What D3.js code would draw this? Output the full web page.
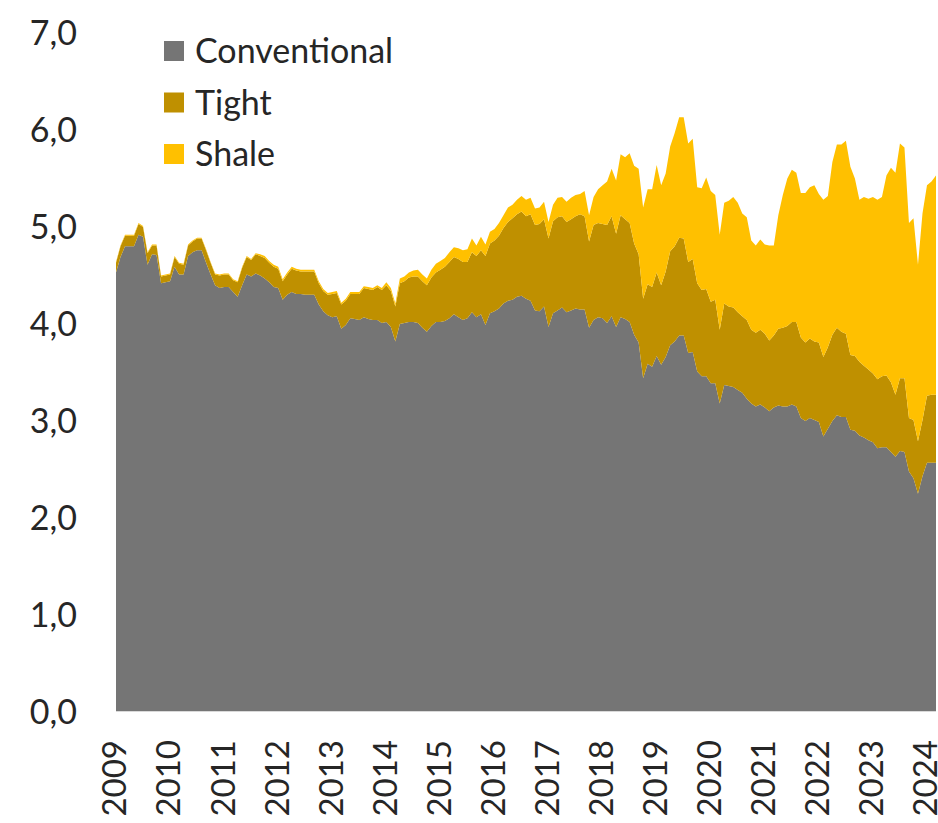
<!DOCTYPE html>
<html><head><meta charset="utf-8">
<script src="https://cdn.jsdelivr.net/npm/d3@7/dist/d3.min.js"></script>
<style>body{margin:0;background:#fff} svg{display:block}</style>
</head><body><svg id="c" width="938" height="823"></svg>
<script>
const startYear = 2009;
const yearLabels = ["2009","2010","2011","2012","2013","2014","2015","2016","2017","2018","2019","2020","2021","2022","2023","2024"];
const yTicks = [0,1,2,3,4,5,6,7];
const seriesNames = ["Conventional","Tight","Shale"];
const seriesColors = ["#757575","#BF9000","#FFC000"];

// monthly values, Jan 2009 onward
const conventional = [
 4.52,4.68,4.79,4.79,4.79,4.91,4.89,4.60,4.71,4.70,4.41,4.42,
 4.43,4.58,4.50,4.50,4.69,4.73,4.75,4.75,4.62,4.50,4.39,4.36,
 4.37,4.37,4.32,4.27,4.39,4.50,4.48,4.51,4.49,4.46,4.42,4.37,
 4.36,4.24,4.29,4.32,4.30,4.30,4.29,4.29,4.29,4.19,4.12,4.08,
 4.06,4.07,3.94,3.98,4.05,4.04,4.03,4.06,4.04,4.03,4.03,4.00,
 4.01,3.96,3.81,3.99,4.00,4.01,4.01,4.00,3.95,3.91,3.97,4.01,
 4.01,4.02,4.05,4.09,4.06,4.03,4.05,4.11,4.06,4.09,3.98,4.10,
 4.12,4.15,4.20,4.23,4.24,4.27,4.28,4.25,4.23,4.13,4.12,4.17,
 3.96,4.10,4.13,4.16,4.11,4.13,4.15,4.14,4.14,3.95,4.03,4.06,
 4.05,4.00,4.07,3.96,4.06,4.04,4.01,3.88,3.80,3.43,3.58,3.55,
 3.66,3.57,3.65,3.77,3.81,3.87,3.87,3.69,3.70,3.50,3.45,3.45,
 3.38,3.38,3.17,3.36,3.35,3.34,3.31,3.28,3.22,3.17,3.14,3.16,
 3.13,3.09,3.13,3.15,3.14,3.14,3.16,3.14,3.02,2.99,3.02,3.00,
 2.98,2.83,2.91,2.99,3.05,3.03,3.03,2.90,2.89,2.84,2.82,2.79,
 2.77,2.71,2.72,2.72,2.67,2.62,2.68,2.67,2.47,2.40,2.24,2.42,
 2.56,2.56,2.56];
const tight = [
 0.10,0.11,0.11,0.11,0.11,0.11,0.10,0.12,0.09,0.10,0.07,0.07,
 0.07,0.10,0.11,0.10,0.11,0.11,0.12,0.12,0.13,0.12,0.11,0.13,
 0.13,0.13,0.12,0.15,0.18,0.18,0.17,0.20,0.20,0.21,0.20,0.21,
 0.20,0.19,0.21,0.24,0.24,0.23,0.24,0.24,0.24,0.22,0.21,0.21,
 0.24,0.24,0.25,0.25,0.25,0.26,0.27,0.30,0.31,0.31,0.34,0.34,
 0.38,0.37,0.36,0.42,0.43,0.46,0.47,0.48,0.48,0.48,0.50,0.51,
 0.54,0.56,0.58,0.59,0.60,0.60,0.58,0.62,0.63,0.66,0.71,0.72,
 0.73,0.75,0.78,0.81,0.84,0.85,0.87,0.85,0.89,0.88,0.90,0.90,
 0.91,0.95,0.96,0.94,0.93,0.94,0.95,0.98,0.96,0.89,0.98,0.97,
 0.97,1.01,1.03,0.96,1.05,1.03,1.02,0.94,0.91,0.82,0.82,0.82,
 0.86,0.82,0.88,0.97,0.98,1.01,1.00,0.94,0.96,0.91,0.89,0.90,
 0.84,0.86,0.76,0.84,0.82,0.82,0.80,0.79,0.81,0.76,0.76,0.77,
 0.76,0.73,0.74,0.79,0.81,0.83,0.85,0.87,0.83,0.81,0.82,0.81,
 0.82,0.82,0.84,0.89,0.90,0.88,0.86,0.77,0.77,0.76,0.74,0.73,
 0.71,0.71,0.73,0.74,0.72,0.64,0.75,0.76,0.55,0.60,0.54,0.58,
 0.69,0.70,0.70];
const shale = [
 0.01,0.01,0.01,0.01,0.01,0.01,0.01,0.01,0.01,0.01,0.01,0.01,
 0.01,0.01,0.01,0.01,0.01,0.01,0.01,0.01,0.01,0.01,0.01,0.01,
 0.01,0.01,0.01,0.01,0.01,0.01,0.01,0.01,0.02,0.02,0.02,0.02,
 0.02,0.02,0.02,0.02,0.02,0.02,0.02,0.02,0.02,0.02,0.02,0.02,
 0.02,0.02,0.02,0.02,0.02,0.02,0.02,0.02,0.02,0.02,0.02,0.02,
 0.03,0.03,0.03,0.05,0.05,0.05,0.06,0.07,0.07,0.07,0.08,0.09,
 0.09,0.09,0.10,0.10,0.11,0.12,0.13,0.14,0.11,0.14,0.12,0.12,
 0.12,0.13,0.13,0.15,0.14,0.15,0.16,0.17,0.17,0.17,0.17,0.18,
 0.17,0.17,0.20,0.20,0.21,0.22,0.22,0.21,0.26,0.27,0.29,0.35,
 0.40,0.45,0.49,0.55,0.63,0.64,0.72,0.80,0.88,0.94,0.98,1.01,
 1.11,1.03,1.01,1.08,1.17,1.24,1.25,1.22,1.24,0.99,1.05,1.15,
 1.14,1.08,0.98,1.04,1.09,1.14,1.13,1.06,1.06,0.92,0.90,0.93,
 0.92,0.98,0.93,1.17,1.37,1.52,1.57,1.54,1.49,1.54,1.56,1.61,
 1.53,1.62,1.56,1.78,1.89,1.93,1.99,1.94,1.83,1.67,1.74,1.76,
 1.82,1.85,1.85,2.06,2.21,2.29,2.42,2.38,2.01,2.08,1.82,2.13,
 2.17,2.20,2.26];

const FONT = "Lato, 'Open Sans', sans-serif";
const TXT = "#262626";
const svg = d3.select("#c");

const x = d3.scaleLinear().domain([0, conventional.length - 1]).range([116, 936]);
const y = d3.scaleLinear().domain([0, 7]).range([711, 32]);

const rows = conventional.map((c, i) => ({ i, Conventional: c, Tight: tight[i], Shale: shale[i] }));
const stacked = d3.stack().keys(seriesNames)(rows);
const area = d3.area().x(d => x(d.data.i)).y0(d => y(d[0])).y1(d => y(d[1]));

svg.append("g").selectAll("path").data(stacked).join("path")
  .attr("fill", (d, i) => seriesColors[i])
  .attr("d", area);

// axis line
svg.append("line").attr("x1", 116).attr("x2", 936).attr("y1", y(0) + 0.5).attr("y2", y(0) + 0.5)
  .attr("stroke", "#d9d9d9").attr("stroke-width", 1);

// y axis
const yAxis = svg.append("g").attr("transform", "translate(116,0)")
  .call(d3.axisLeft(y).tickValues(yTicks).tickSize(0).tickPadding(39)
    .tickFormat(d => d.toFixed(1).replace(".", ",")));
yAxis.select(".domain").remove();
yAxis.selectAll("text").attr("font-family", FONT).attr("font-size", 34).attr("fill", TXT).attr("dy", "0.36em");

// x axis
const xAxis = svg.append("g").attr("transform", `translate(0,${y(0)})`)
  .call(d3.axisBottom(x).tickValues(yearLabels.map((_, k) => k * 12)).tickSize(0)
    .tickFormat(i => yearLabels[i / 12]));
xAxis.select(".domain").remove();
xAxis.selectAll("text")
  .attr("font-family", FONT).attr("font-size", 33).attr("fill", TXT)
  .attr("transform", "rotate(-90)")
  .attr("text-anchor", "end")
  .attr("x", -29).attr("y", 0).attr("dy", "0.3em");

// legend
const lg = svg.append("g").attr("transform", "translate(164,41)");
seriesNames.forEach((n, i) => {
  const g = lg.append("g").attr("transform", `translate(0,${i * 51.5})`);
  g.append("rect").attr("width", 20).attr("height", 20).attr("fill", seriesColors[i]);
  g.append("text").attr("x", 31).attr("y", 10).attr("dy", "0.36em")
    .attr("font-family", FONT).attr("font-size", 34).attr("fill", TXT).text(n);
});
</script></body></html>
